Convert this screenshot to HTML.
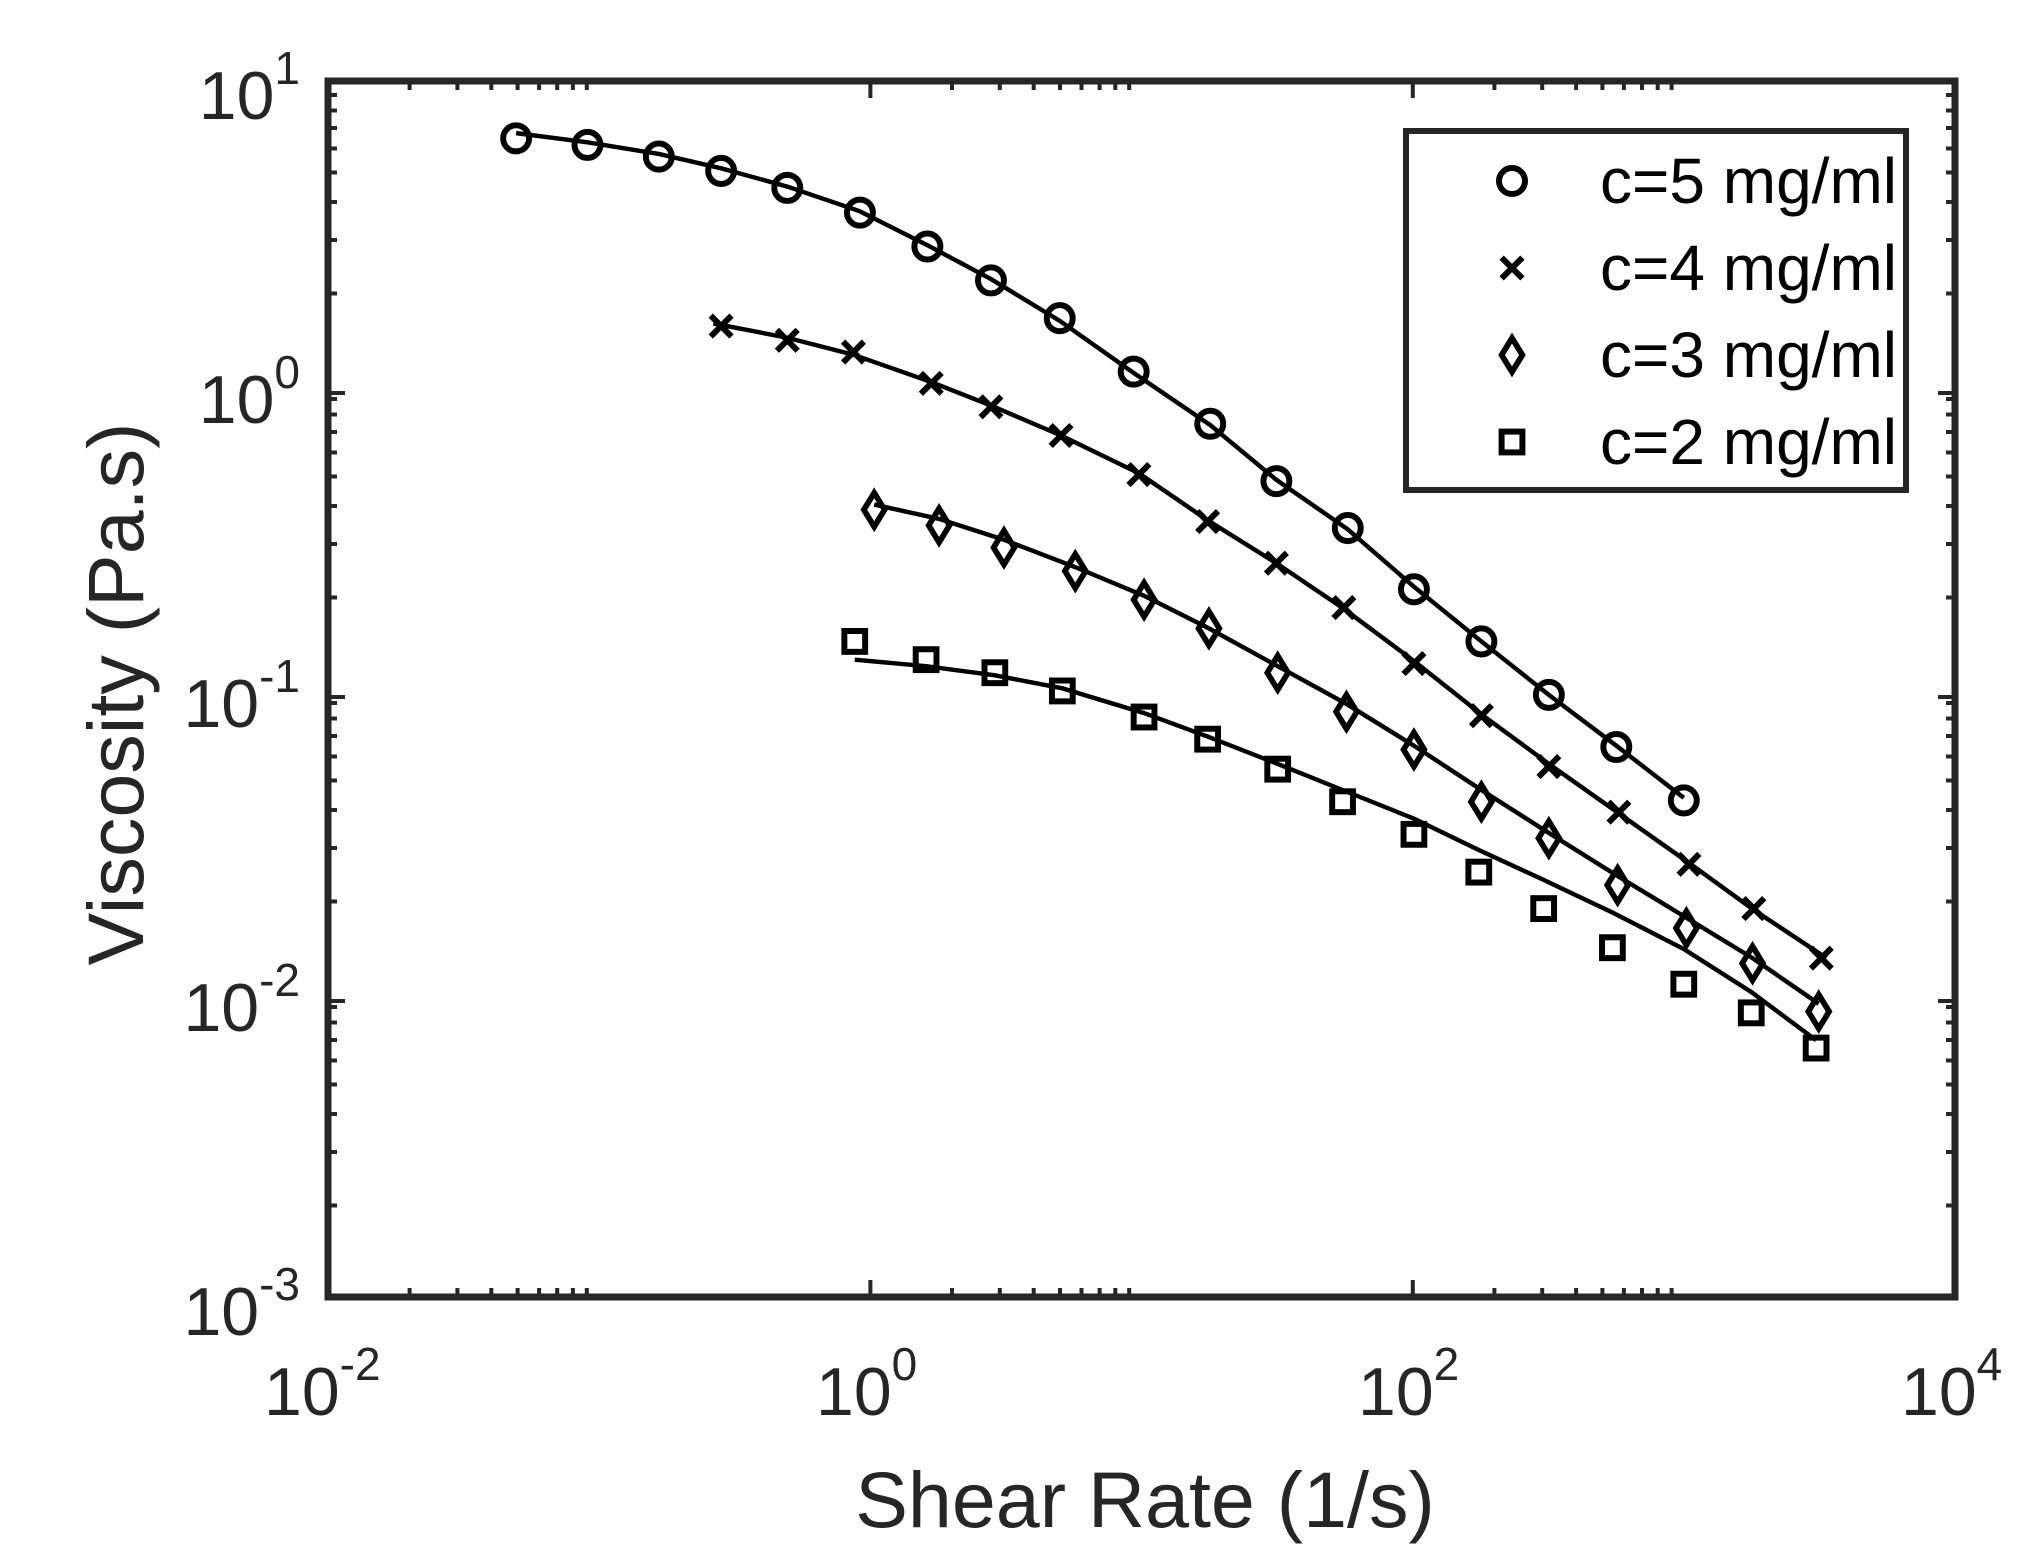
<!DOCTYPE html>
<html><head><meta charset="utf-8"><style>html,body{margin:0;padding:0;background:#fff}svg{display:block}</style></head>
<body>
<svg width="2036" height="1568" viewBox="0 0 2036 1568" xmlns="http://www.w3.org/2000/svg" font-family="Liberation Sans, Arial, sans-serif">
<rect width="2036" height="1568" fill="#fff"/>
<defs>
<circle id="o" r="10" fill="none" stroke="#000" stroke-width="4.6"/>
<path id="x" d="M-8,-8L8,8M-8,8L8,-8" stroke="#000" stroke-width="4.6" fill="none"/>
<path id="d" d="M0,-13L8,0L0,13L-8,0Z" stroke="#000" stroke-width="4.4" fill="none"/>
<rect id="s" x="-8" y="-8" width="16" height="16" stroke="#000" stroke-width="4.6" fill="none"/>
</defs>
<g transform="matrix(1.2974 0 0 1.3033 2.35 -2.41)">
<g fill="none" stroke="#000" stroke-width="3.4">
<polyline points="396,104 451,111 506,120 554,131 605,145 661,164 713,190 762,216 815,248 872,288 931,328 982,370 1037,408 1088,452 1140,494 1192,535 1244,574 1296,614"/>
<polyline points="548,250 605,261 656,274 716,295 762,313 816,336 876,365 929,401 982,434 1034,469 1088,509 1140,550 1192,588 1246,626 1300,664 1350,700 1406,737"/>
<polyline points="672,389 722,400 772,416 827,437 880,459 930,484 983,513 1036,542 1088,574 1140,608 1192,641 1245,674 1298,706 1349,737 1400,772"/>
<polyline points="657,508 712,513 765,520 817,530 880,549 929,567 983,588 1033,608 1088,630 1138,654 1188,677 1241,702 1296,730 1348,763 1398,800"/>
</g>
<g>
<use href="#o" x="396" y="108"/><use href="#o" x="451" y="113"/><use href="#o" x="506" y="122"/><use href="#o" x="554" y="133"/><use href="#o" x="605" y="146"/><use href="#o" x="661" y="165"/><use href="#o" x="713" y="191"/><use href="#o" x="762" y="217"/><use href="#o" x="815" y="246"/><use href="#o" x="872" y="287"/><use href="#o" x="931" y="327"/><use href="#o" x="982" y="371"/><use href="#o" x="1037" y="407"/><use href="#o" x="1088" y="454"/><use href="#o" x="1140" y="494"/><use href="#o" x="1192" y="535"/><use href="#o" x="1244" y="575"/><use href="#o" x="1296" y="616"/>
<use href="#x" x="554" y="252"/><use href="#x" x="605" y="263"/><use href="#x" x="656" y="272"/><use href="#x" x="716" y="296"/><use href="#x" x="762" y="314"/><use href="#x" x="816" y="336"/><use href="#x" x="876" y="366"/><use href="#x" x="929" y="402"/><use href="#x" x="982" y="434"/><use href="#x" x="1034" y="468"/><use href="#x" x="1088" y="511"/><use href="#x" x="1140" y="551"/><use href="#x" x="1192" y="590"/><use href="#x" x="1246" y="625"/><use href="#x" x="1300" y="665"/><use href="#x" x="1350" y="699"/><use href="#x" x="1402" y="737"/>
<use href="#d" x="672" y="393"/><use href="#d" x="722" y="405"/><use href="#d" x="772" y="422"/><use href="#d" x="827" y="440"/><use href="#d" x="880" y="462"/><use href="#d" x="930" y="484"/><use href="#d" x="983" y="518"/><use href="#d" x="1036" y="548"/><use href="#d" x="1088" y="577"/><use href="#d" x="1140" y="617"/><use href="#d" x="1192" y="645"/><use href="#d" x="1245" y="681"/><use href="#d" x="1298" y="714"/><use href="#d" x="1349" y="741"/><use href="#d" x="1400" y="778"/>
<use href="#s" x="657" y="494"/><use href="#s" x="712" y="508"/><use href="#s" x="765" y="518"/><use href="#s" x="817" y="532"/><use href="#s" x="880" y="552"/><use href="#s" x="929" y="569"/><use href="#s" x="983" y="592"/><use href="#s" x="1033" y="617"/><use href="#s" x="1088" y="642"/><use href="#s" x="1138" y="671"/><use href="#s" x="1188" y="699"/><use href="#s" x="1241" y="729"/><use href="#s" x="1296" y="757"/><use href="#s" x="1348" y="779"/><use href="#s" x="1398" y="806"/>
</g>
</g>
<g stroke="#262626" stroke-width="4" fill="none">
<path d="M870.4,1297v-17M1412.8,1297v-17M870.4,81v17M1412.8,81v17
M328,1001h17M328,697h17M328,393h17M1955,1001h-17M1955,697h-17M1955,393h-17"/>
<path d="M409.6,1297v-9M457.4,1297v-9M491.3,1297v-9M517.6,1297v-9M539.1,1297v-9M557.2,1297v-9M572.9,1297v-9M586.8,1297v-9
M952,1297v-9M999.8,1297v-9M1033.7,1297v-9M1060,1297v-9M1081.5,1297v-9M1099.6,1297v-9M1115.3,1297v-9M1129.2,1297v-9
M1494.4,1297v-9M1542.2,1297v-9M1576.1,1297v-9M1602.4,1297v-9M1623.9,1297v-9M1642,1297v-9M1657.7,1297v-9M1671.6,1297v-9
M409.6,81v9M457.4,81v9M491.3,81v9M517.6,81v9M539.1,81v9M557.2,81v9M572.9,81v9M586.8,81v9
M952,81v9M999.8,81v9M1033.7,81v9M1060,81v9M1081.5,81v9M1099.6,81v9M1115.3,81v9M1129.2,81v9
M1494.4,81v9M1542.2,81v9M1576.1,81v9M1602.4,81v9M1623.9,81v9M1642,81v9M1657.7,81v9M1671.6,81v9"/>
<path d="M328,1205.5h9M328,1152h9M328,1114h9M328,1084.5h9M328,1060.5h9M328,1040h9M328,1022.5h9M328,1007h9
M328,901.5h9M328,848h9M328,810h9M328,780.5h9M328,756.5h9M328,736h9M328,718.5h9M328,703h9
M328,597.5h9M328,544h9M328,506h9M328,476.5h9M328,452.5h9M328,432h9M328,414.5h9M328,399h9
M328,293.5h9M328,240h9M328,202h9M328,172.5h9M328,148.5h9M328,128h9M328,110.5h9M328,95h9
M1955,1205.5h-9M1955,1152h-9M1955,1114h-9M1955,1084.5h-9M1955,1060.5h-9M1955,1040h-9M1955,1022.5h-9M1955,1007h-9
M1955,901.5h-9M1955,848h-9M1955,810h-9M1955,780.5h-9M1955,756.5h-9M1955,736h-9M1955,718.5h-9M1955,703h-9
M1955,597.5h-9M1955,544h-9M1955,506h-9M1955,476.5h-9M1955,452.5h-9M1955,432h-9M1955,414.5h-9M1955,399h-9
M1955,293.5h-9M1955,240h-9M1955,202h-9M1955,172.5h-9M1955,148.5h-9M1955,128h-9M1955,110.5h-9M1955,95h-9"/>
</g>
<rect x="328" y="81" width="1627" height="1216" fill="none" stroke="#262626" stroke-width="7"/>
<g fill="#262626" font-size="68">
<text x="300" y="1335" text-anchor="end">10<tspan font-size="46" dy="-35">-3</tspan></text>
<text x="300" y="1031" text-anchor="end">10<tspan font-size="46" dy="-35">-2</tspan></text>
<text x="300" y="727" text-anchor="end">10<tspan font-size="46" dy="-35">-1</tspan></text>
<text x="300" y="423" text-anchor="end">10<tspan font-size="46" dy="-35">0</tspan></text>
<text x="300" y="119" text-anchor="end">10<tspan font-size="46" dy="-35">1</tspan></text>
<text x="264" y="1415">10<tspan font-size="46" dy="-35">-2</tspan></text>
<text x="816" y="1415">10<tspan font-size="46" dy="-35">0</tspan></text>
<text x="1358" y="1415">10<tspan font-size="46" dy="-35">2</tspan></text>
<text x="1901" y="1415">10<tspan font-size="46" dy="-35">4</tspan></text>
</g>
<text x="1145" y="1527" text-anchor="middle" font-size="79" fill="#262626">Shear Rate (1/s)</text>
<text transform="translate(143,694) rotate(-90)" text-anchor="middle" font-size="79" fill="#262626">Viscosity (Pa.s)</text>
<rect x="1406" y="131" width="500" height="359" fill="#fff" stroke="#262626" stroke-width="6"/>
<g font-size="64" fill="#000">
<text x="1600" y="203">c=5 mg/ml</text>
<text x="1600" y="290">c=4 mg/ml</text>
<text x="1600" y="377">c=3 mg/ml</text>
<text x="1600" y="464">c=2 mg/ml</text>
</g>
<g transform="translate(1512,181) scale(1.3)"><use href="#o"/></g>
<g transform="translate(1512,268) scale(1.3)"><use href="#x"/></g>
<g transform="translate(1512,355) scale(1.3)"><use href="#d"/></g>
<g transform="translate(1512,442) scale(1.3)"><use href="#s"/></g>
</svg>
</body></html>
